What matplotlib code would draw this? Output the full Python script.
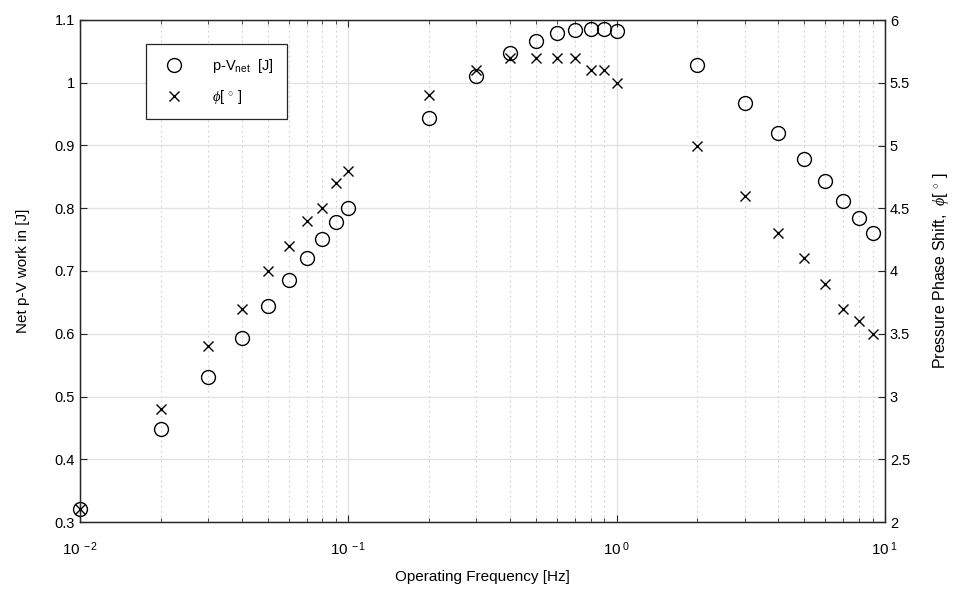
import numpy as np
import matplotlib.pyplot as plt
from matplotlib.ticker import LogLocator, FixedLocator, FormatStrFormatter, NullFormatter

plt.rcParams['font.family'] = ['Liberation Sans', 'DejaVu Sans']
plt.rcParams['mathtext.fontset'] = 'custom'
plt.rcParams['mathtext.rm'] = 'Liberation Sans'
plt.rcParams['mathtext.it'] = 'Liberation Serif:italic'

# operating frequencies [Hz]
freq = [0.01, 0.02, 0.03, 0.04, 0.05, 0.06, 0.07, 0.08, 0.09, 0.1,
        0.2, 0.3, 0.4, 0.5, 0.6, 0.7, 0.8, 0.9, 1.0,
        2, 3, 4, 5, 6, 7, 8, 9]
# net p-V work [J]
work = [0.32, 0.448, 0.531, 0.594, 0.645, 0.685, 0.721, 0.751, 0.778, 0.801,
        0.944, 1.011, 1.048, 1.067, 1.079, 1.084, 1.085, 1.085, 1.082,
        1.028, 0.968, 0.920, 0.878, 0.843, 0.812, 0.785, 0.761]
# pressure phase shift [deg]
phi = [2.1, 2.9, 3.4, 3.7, 4.0, 4.2, 4.4, 4.5, 4.7, 4.8,
       5.4, 5.6, 5.7, 5.7, 5.7, 5.7, 5.6, 5.6, 5.5,
       5.0, 4.6, 4.3, 4.1, 3.9, 3.7, 3.6, 3.5]

fig = plt.figure(figsize=(9.65, 5.95), dpi=100)
ax = fig.add_axes([80/965, 1-522/595, 805/965, 502/595])
ax2 = ax.twinx()

l1, = ax.plot(freq, work, 'o', ms=10, mfc='none', mec='k', mew=1.0,
              label=r'p-V$_{\rm net}$  [J]', clip_on=False, zorder=5)
l2, = ax2.plot(freq, phi, 'x', ms=7.5, color='k', mew=1.0,
               label=r'$\phi$[ $^{\circ}$ ]', clip_on=False, zorder=5)

ax.set_xscale('log')
ax.set_xlim(0.01, 10)
ax.set_ylim(0.3, 1.1)
ax2.set_ylim(2, 6)

ax.set_xticks([0.01, 0.1, 1, 10])
ax.set_xticklabels([r'$10^{\ -2}$', r'$10^{\ -1}$', r'$10^{\ 0}$', r'$10^{\ 1}$'])
ax.xaxis.set_minor_locator(LogLocator(base=10, subs=np.arange(2, 10)))
ax.xaxis.set_minor_formatter(NullFormatter())
ax.yaxis.set_major_locator(FixedLocator(np.arange(0.3, 1.101, 0.1)))
ax.yaxis.set_major_formatter(FormatStrFormatter('%g'))
ax2.yaxis.set_major_locator(FixedLocator(np.arange(2, 6.01, 0.5)))
ax2.yaxis.set_major_formatter(FormatStrFormatter('%g'))

# grid lines
ax.grid(True, which='major', axis='both', color='#e3e3e3', linewidth=1.0, linestyle='-')
ax.grid(True, which='minor', axis='x', color='#cfcfcf', linewidth=0.8, linestyle=(0, (1.5, 3)))
ax.set_axisbelow(True)

for a in (ax, ax2):
    a.tick_params(which='both', direction='in', labelsize=10.5, colors='#262626', labelcolor='k')
    a.tick_params(which='major', length=5)
    a.tick_params(which='minor', length=3)
    for s in a.spines.values():
        s.set_color('#262626')
        s.set_linewidth(0.9)
ax.tick_params(which='both', top=True)
ax.tick_params(axis='x', pad=13, labelsize=11)

ax.set_xlabel('Operating Frequency [Hz]', fontsize=11, labelpad=9)
ax.set_ylabel('Net p-V work in [J]', fontsize=11, labelpad=18)
ax2.set_ylabel(r'Pressure Phase Shift,  $\phi$[ $^{\circ}$ ]', fontsize=11.5, labelpad=15)

leg = ax.legend(handles=[l1, l2], loc='upper left', bbox_to_anchor=(0.082, 0.952),
                fontsize=10.5, frameon=True, fancybox=False, borderpad=0.9,
                labelspacing=0.9, handletextpad=1.6, borderaxespad=0)
leg.get_frame().set_edgecolor('#262626')
leg.get_frame().set_linewidth(0.9)
leg.get_frame().set_alpha(1)

fig.savefig('out.png', dpi=100)
